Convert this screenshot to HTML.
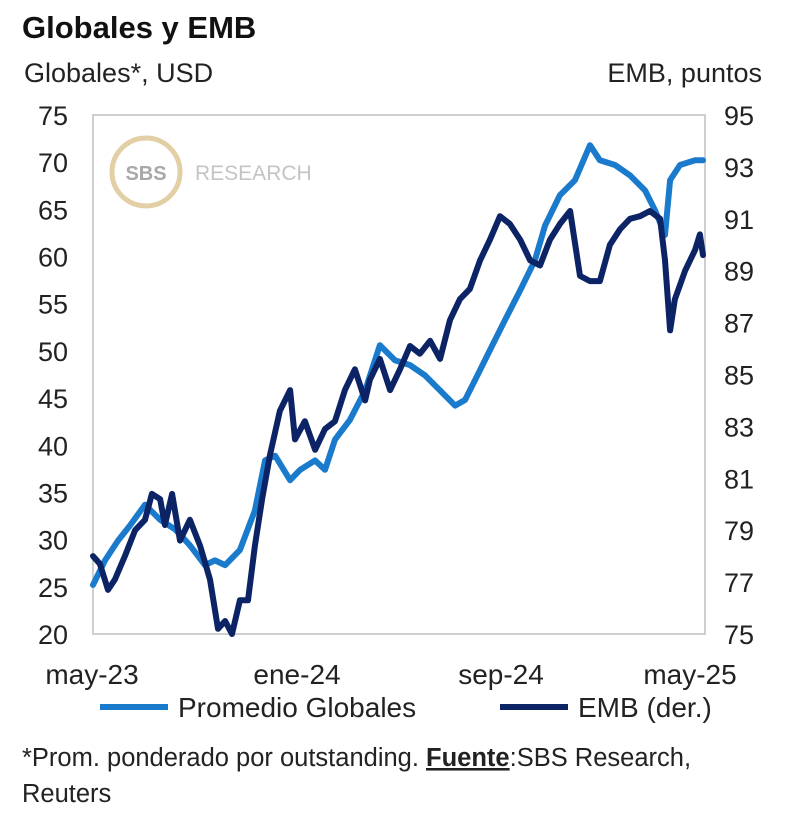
<!DOCTYPE html>
<html><head><meta charset="utf-8">
<style>
body{margin:0;background:#fff;width:800px;height:808px;overflow:hidden;font-family:"Liberation Sans",sans-serif;}
svg text{font-family:"Liberation Sans",sans-serif;}
</style></head>
<body>
<svg id="chart" width="800" height="808" viewBox="0 0 800 808">
<text x="22" y="38" font-size="31" font-weight="bold" fill="#111">Globales y EMB</text>
<text x="24" y="82" font-size="27" fill="#222">Globales*, USD</text>
<text x="762" y="82" font-size="27" fill="#222" text-anchor="end">EMB, puntos</text>
<rect x="93" y="115" width="612" height="519" fill="none" stroke="#cfcfcf" stroke-width="2"/>
<g>
<circle cx="146" cy="172" r="34" fill="none" stroke="#e3cfa6" stroke-width="5"/>
<text x="146" y="180" font-size="20" font-weight="bold" fill="#a8a8a8" text-anchor="middle">SBS</text>
<text x="195" y="180" font-size="21" fill="#c4c4c4">RESEARCH</text>
</g>
<g id="axes"></g>
<g id="series"></g>
<g>
<line x1="100" y1="707" x2="168" y2="707" stroke="#1a7acc" stroke-width="6"/>
<text x="178" y="717" font-size="28" fill="#222">Promedio Globales</text>
<line x1="500" y1="707" x2="568" y2="707" stroke="#0c2466" stroke-width="6"/>
<text x="578" y="717" font-size="28" fill="#222">EMB (der.)</text>
</g>
<text x="22" y="766" font-size="25.5" fill="#222">*Prom. ponderado por outstanding. <tspan font-weight="bold" text-decoration="underline">Fuente</tspan>:SBS Research,</text>
<text x="22" y="802" font-size="25.5" fill="#222">Reuters</text>
</svg>
<script>
const leftTicks=[20,25,30,35,40,45,50,55,60,65,70,75];
const rightTicks=[75,77,79,81,83,85,87,89,91,93,95];
const xTickLabels=["may-23","ene-24","sep-24","may-25"];
const xTickMonths=[0,8,16,24];
const globMonths=[0,0.47,0.98,1.45,2.04,2.63,3.22,3.8,4.39,4.78,5.18,5.76,6.35,6.75,7.14,7.73,8.12,8.71,9.1,9.49,10.08,10.67,11.25,11.84,12.43,13.02,13.61,14.2,14.59,14.98,15.57,16.16,16.75,17.33,17.73,18.31,18.9,19.49,19.88,20.47,21.06,21.65,22.04,22.43,22.63,23.02,23.61,23.92];
const globValues=[25.2,27.8,29.9,31.5,33.7,32.1,31.1,29.4,27.3,27.8,27.3,28.9,33.1,38.4,38.9,36.3,37.4,38.4,37.4,40.6,42.7,45.8,50.6,49.0,48.5,47.4,45.8,44.2,44.8,46.9,50.1,53.3,56.4,59.6,63.3,66.5,68.1,71.8,70.2,69.7,68.6,67.0,64.9,62.3,68.1,69.7,70.2,70.2];
const embMonths=[0,0.27,0.59,0.86,1.25,1.65,2.04,2.31,2.63,2.82,3.1,3.41,3.8,4.2,4.59,4.9,5.18,5.45,5.76,6.08,6.35,6.63,6.94,7.33,7.73,7.92,8.31,8.71,9.1,9.49,9.88,10.27,10.67,10.86,11.25,11.65,12.04,12.43,12.82,13.22,13.61,14.0,14.39,14.78,15.18,15.57,15.96,16.35,16.75,17.14,17.53,17.92,18.31,18.71,19.1,19.49,19.88,20.27,20.67,21.06,21.45,21.84,22.24,22.43,22.63,22.82,23.22,23.61,23.8,23.92];
const embValues=[78.0,77.7,76.7,77.1,78.0,79.0,79.4,80.4,80.2,79.2,80.4,78.6,79.4,78.4,77.1,75.2,75.5,75.0,76.3,76.3,78.4,80.2,81.9,83.6,84.4,82.5,83.2,82.1,82.9,83.2,84.4,85.2,84.0,84.8,85.6,84.4,85.2,86.1,85.8,86.3,85.6,87.1,87.9,88.3,89.4,90.2,91.1,90.8,90.2,89.4,89.2,90.2,90.8,91.3,88.8,88.6,88.6,90.0,90.6,91.0,91.1,91.3,91.0,89.4,86.7,87.9,89.0,89.8,90.4,89.6];

const X0=93,X1=705,Y0=634,Y1=115;
const xScale=m=>X0+(m/24)*(X1-X0);
const yLeft=v=>Y0-(v-20)/(75-20)*(Y0-Y1);
const yRight=v=>Y0-(v-75)/(95-75)*(Y0-Y1);
const NS="http://www.w3.org/2000/svg";
const axes=document.getElementById('axes');
function txt(x,y,s,anchor,fs){const t=document.createElementNS(NS,'text');t.setAttribute('x',x);t.setAttribute('y',y);t.setAttribute('font-size',fs);t.setAttribute('fill','#222');t.setAttribute('text-anchor',anchor);t.textContent=s;axes.appendChild(t);return t;}
leftTicks.forEach(v=>{const t=txt(68,yLeft(v)+10,String(v),'end',27);

});
rightTicks.forEach(v=>{const t=txt(724,yRight(v)+10,String(v),'start',27);

});
xTickLabels.forEach((s,i)=>{let x=xScale(xTickMonths[i]);if(i==0)x=92;if(i==3)x=690;const t=txt(x,684,s,'middle',28);

});
const series=document.getElementById('series');
function line(ms,vs,ys,color,name){const p=document.createElementNS(NS,'polyline');
p.setAttribute('points',ms.map((m,i)=>xScale(m).toFixed(1)+','+ys(vs[i]).toFixed(1)).join(' '));
p.setAttribute('fill','none');p.setAttribute('stroke',color);p.setAttribute('stroke-width','6');p.setAttribute('stroke-linejoin','round');p.setAttribute('stroke-linecap','round');


series.appendChild(p);}
line(globMonths,globValues,yLeft,'#1a7acc','line-promedio-globales');
line(embMonths,embValues,yRight,'#0c2466','line-emb');
</script>
</body></html>
